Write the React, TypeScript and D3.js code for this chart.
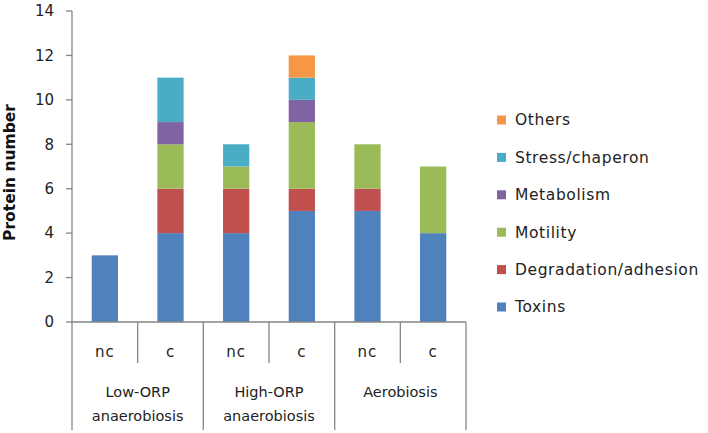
import React from "react";
import * as d3 from "d3";

const groups = ["Low-ORP anaerobiosis", "High-ORP anaerobiosis", "Aerobiosis"];
const groupLines = [["Low-ORP", "anaerobiosis"], ["High-ORP", "anaerobiosis"], ["Aerobiosis"]];
const subLabels = ["nc", "c"];
const seriesNames = ["Toxins", "Degradation/adhesion", "Motility", "Metabolism", "Stress/chaperon", "Others"];
const seriesColors = ["#4F81BD", "#C0504D", "#9BBB59", "#8064A2", "#4BACC6", "#F79646"];
// values per bar (Low nc, Low c, High nc, High c, Aero nc, Aero c)
const toxins = [3, 4, 4, 5, 5, 4];
const degradation = [0, 2, 2, 1, 1, 0];
const motility = [0, 2, 1, 3, 2, 3];
const metabolism = [0, 1, 0, 1, 0, 0];
const stress = [0, 2, 1, 1, 0, 0];
const others = [0, 0, 0, 1, 0, 0];
const yTicks = [0, 2, 4, 6, 8, 10, 12, 14];

const W = 708, H = 433;
const left = 72, right = 466, top = 11, bottom = 322;
const axisColor = "#868686";
const font = "'DejaVu Sans', Verdana, sans-serif";

export default function App() {
  const series = [toxins, degradation, motility, metabolism, stress, others];
  const bars = groups.flatMap((g, gi) => subLabels.map((s, si) => `${gi}-${si}`));
  const x = d3.scaleBand<string>().domain(bars).range([left, right]).paddingInner(0.6).paddingOuter(0.3);
  const xCat = d3.scaleBand<string>().domain(bars).range([left, right]);
  const y = d3.scaleLinear().domain([0, 14]).range([bottom, top]);
  const rows = bars.map((b, i) => {
    const o: any = { key: b };
    seriesNames.forEach((n, k) => (o[n] = series[k][i]));
    return o;
  });
  const stacked = d3.stack<any>().keys(seriesNames)(rows);
  const gw = (right - left) / groups.length;
  const legendY = d3.scalePoint<string>().domain([...seriesNames].reverse()).range([120, 307]);

  return (
    <svg width={W} height={H} style={{ position: "absolute", left: 0, top: 0, background: "#fff" }}>
      {stacked.map((layer, k) => (
        <g key={k} fill={seriesColors[k]}>
          {layer.map((d, i) =>
            d[1] - d[0] > 0 ? (
              <rect key={i} x={x(bars[i])} width={x.bandwidth()} y={y(d[1])} height={y(d[0]) - y(d[1])} />
            ) : null
          )}
        </g>
      ))}
      {/* y axis */}
      <line x1={left} x2={left} y1={top} y2={430} stroke={axisColor} strokeWidth={1.3} />
      {yTicks.map((t) => (
        <g key={t}>
          <line x1={left - 6} x2={left} y1={y(t)} y2={y(t)} stroke={axisColor} strokeWidth={1.3} />
          <text x={left - 18} y={y(t)} dy="0.35em" textAnchor="end" fontFamily={font} fontSize={15} fill="#222">
            {t}
          </text>
        </g>
      ))}
      <text
        transform={`translate(10,${(top + bottom) / 2 + 6}) rotate(-90)`}
        textAnchor="middle"
        dy="0.35em"
        fontFamily={font}
        fontSize={15.5}
        fontWeight="bold"
        fill="#111"
      >
        Protein number
      </text>
      {/* x axis */}
      <line x1={left} x2={right} y1={bottom} y2={bottom} stroke={axisColor} strokeWidth={1.3} />
      {bars.map((b, i) => {
        const xs = xCat(b)! + xCat.bandwidth();
        const isGroupEnd = i % 2 === 1;
        return (
          <line key={b} x1={xs} x2={xs} y1={bottom} y2={isGroupEnd ? 430 : 363} stroke={axisColor} strokeWidth={1.3} />
        );
      })}
      {bars.map((b, i) => (
        <text
          key={b}
          x={xCat(b)! + xCat.bandwidth() / 2}
          y={352}
          dy="0.35em"
          textAnchor="middle"
          fontFamily={font}
          fontSize={15}
          letterSpacing={1}
          fill="#222"
        >
          {subLabels[i % 2]}
        </text>
      ))}
      {groupLines.map((lines, gi) =>
        lines.map((l, li) => (
          <text
            key={`${gi}-${li}`}
            x={left + gw * gi + gw / 2}
            y={392 + li * 24}
            dy="0.35em"
            textAnchor="middle"
            fontFamily={font}
            fontSize={14.5}
            fill="#222"
          >
            {l}
          </text>
        ))
      )}
      {/* legend */}
      {seriesNames.map((n, k) => (
        <g key={n}>
          <rect x={497} y={legendY(n)! - 4.5} width={9} height={9} fill={seriesColors[k]} />
          <text x={515} y={legendY(n)} dy="0.35em" fontFamily={font} fontSize={15.5} letterSpacing={0.6} fill="#222">
            {n}
          </text>
        </g>
      ))}
    </svg>
  );
}
